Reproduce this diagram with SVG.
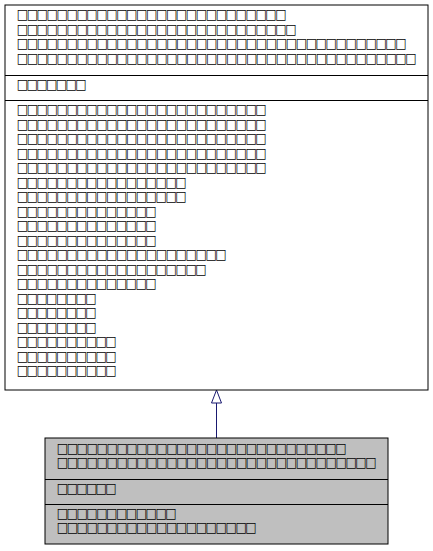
<svg xmlns="http://www.w3.org/2000/svg" width="433" height="551" viewBox="0 0 433 551">
<style>
.t{font-family:"DejaVu Sans",sans-serif;font-size:14px;fill:#000;}
.box{stroke:#000;stroke-width:1;}
.div{stroke:#000;stroke-width:1;}
</style>
<rect width="433" height="551" fill="#fff"/>
<g id="connectors">
<line x1="216.5" y1="438" x2="216.5" y2="403" stroke="#191970" stroke-width="1"/>
<polygon points="216.5,390 211.5,403 221.5,403" fill="#fff" stroke="#191970" stroke-width="1"/>
</g>
<g id="node-base">
<rect class="box" x="5" y="5" width="423" height="385" fill="#fff"/>
<line class="div" x1="5" y1="75.5" x2="428" y2="75.5"/>
<line class="div" x1="5" y1="100.5" x2="428" y2="100.5"/>
<g transform="translate(16.7 0) scale(0.86 1)">
<text class="t" x="0" y="19.5" textLength="313.95" lengthAdjust="spacing">□□□□□□□□□□□□□□□□□□□□□□□□□□□</text>
<text class="t" x="0" y="34" textLength="325.58" lengthAdjust="spacing">□□□□□□□□□□□□□□□□□□□□□□□□□□□□</text>
<text class="t" x="0" y="48.5" textLength="453.49" lengthAdjust="spacing">□□□□□□□□□□□□□□□□□□□□□□□□□□□□□□□□□□□□□□□</text>
<text class="t" x="0" y="63" textLength="465.12" lengthAdjust="spacing">□□□□□□□□□□□□□□□□□□□□□□□□□□□□□□□□□□□□□□□□</text>
<text class="t" x="0" y="89.5" textLength="81.4" lengthAdjust="spacing">□□□□□□□</text>
<text class="t" x="0" y="114.5" textLength="290.7" lengthAdjust="spacing">□□□□□□□□□□□□□□□□□□□□□□□□□</text>
<text class="t" x="0" y="129" textLength="290.7" lengthAdjust="spacing">□□□□□□□□□□□□□□□□□□□□□□□□□</text>
<text class="t" x="0" y="143.5" textLength="290.7" lengthAdjust="spacing">□□□□□□□□□□□□□□□□□□□□□□□□□</text>
<text class="t" x="0" y="158" textLength="290.7" lengthAdjust="spacing">□□□□□□□□□□□□□□□□□□□□□□□□□</text>
<text class="t" x="0" y="172.5" textLength="290.7" lengthAdjust="spacing">□□□□□□□□□□□□□□□□□□□□□□□□□</text>
<text class="t" x="0" y="187" textLength="197.67" lengthAdjust="spacing">□□□□□□□□□□□□□□□□□</text>
<text class="t" x="0" y="201.5" textLength="197.67" lengthAdjust="spacing">□□□□□□□□□□□□□□□□□</text>
<text class="t" x="0" y="216" textLength="162.79" lengthAdjust="spacing">□□□□□□□□□□□□□□</text>
<text class="t" x="0" y="230.5" textLength="162.79" lengthAdjust="spacing">□□□□□□□□□□□□□□</text>
<text class="t" x="0" y="245" textLength="162.79" lengthAdjust="spacing">□□□□□□□□□□□□□□</text>
<text class="t" x="0" y="259.5" textLength="244.19" lengthAdjust="spacing">□□□□□□□□□□□□□□□□□□□□□</text>
<text class="t" x="0" y="274" textLength="220.93" lengthAdjust="spacing">□□□□□□□□□□□□□□□□□□□</text>
<text class="t" x="0" y="288.5" textLength="162.79" lengthAdjust="spacing">□□□□□□□□□□□□□□</text>
<text class="t" x="0" y="303" textLength="93.02" lengthAdjust="spacing">□□□□□□□□</text>
<text class="t" x="0" y="317.5" textLength="93.02" lengthAdjust="spacing">□□□□□□□□</text>
<text class="t" x="0" y="332" textLength="93.02" lengthAdjust="spacing">□□□□□□□□</text>
<text class="t" x="0" y="346.5" textLength="116.28" lengthAdjust="spacing">□□□□□□□□□□</text>
<text class="t" x="0" y="361" textLength="116.28" lengthAdjust="spacing">□□□□□□□□□□</text>
<text class="t" x="0" y="375.5" textLength="116.28" lengthAdjust="spacing">□□□□□□□□□□</text>
</g>
</g>
<g id="node-derived">
<rect class="box" x="45" y="438" width="343" height="106" fill="#bfbfbf"/>
<line class="div" x1="45" y1="479.5" x2="388" y2="479.5"/>
<line class="div" x1="45" y1="504.5" x2="388" y2="504.5"/>
<g transform="translate(56.7 0) scale(0.86 1)">
<text class="t" x="0" y="453" textLength="337.21" lengthAdjust="spacing">□□□□□□□□□□□□□□□□□□□□□□□□□□□□□</text>
<text class="t" x="0" y="467.5" textLength="372.09" lengthAdjust="spacing">□□□□□□□□□□□□□□□□□□□□□□□□□□□□□□□□</text>
<text class="t" x="0" y="493.5" textLength="69.77" lengthAdjust="spacing">□□□□□□</text>
<text class="t" x="0" y="518" textLength="139.53" lengthAdjust="spacing">□□□□□□□□□□□□</text>
<text class="t" x="0" y="532.5" textLength="232.56" lengthAdjust="spacing">□□□□□□□□□□□□□□□□□□□□</text>
</g>
</g>
</svg>
